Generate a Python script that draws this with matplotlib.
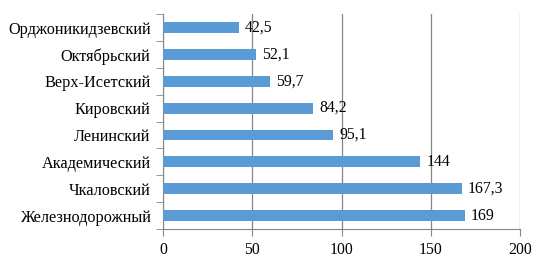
import matplotlib.pyplot as plt
import numpy as np

plt.rcParams['font.family'] = ['Liberation Serif', 'DejaVu Serif']

districts = ['Орджоникидзевский', 'Октябрьский', 'Верх-Исетский', 'Кировский',
             'Ленинский', 'Академический', 'Чкаловский', 'Железнодорожный']
values = [42.5, 52.1, 59.7, 84.2, 95.1, 144, 167.3, 169]
x_ticks = [0, 50, 100, 150, 200]

fig = plt.figure(figsize=(5.47, 2.66), dpi=100)
ax = fig.add_axes([0.298, 0.139, 0.653, 0.808])

pos = np.arange(len(districts))
ax.barh(pos, values, height=0.4, color='#5B9BD5', zorder=3)
ax.set_ylim(len(districts) - 0.5, -0.5)
ax.set_xlim(0, 200)

for p, v in zip(pos, values):
    txt = ('%g' % v).replace('.', ',')
    ax.text(v + 3.5, p, txt, va='center', ha='left', fontsize=11.3, color='black')

ax.set_yticks(pos)
ax.set_yticklabels(districts, fontsize=11.7)
ax.set_yticks(np.arange(len(districts) + 1) - 0.5, minor=True)
ax.tick_params(axis='y', which='major', length=0, pad=9)
ax.tick_params(axis='y', which='minor', length=5, color='#868686')

ax.set_xticks(x_ticks)
ax.tick_params(axis='x', length=5, color='#868686', labelsize=11.3, pad=4)

ax.grid(axis='x', color='#868686', linewidth=0.9, zorder=0)
for side in ['top', 'right']:
    ax.spines[side].set_visible(False)
for side in ['left', 'bottom']:
    ax.spines[side].set_color('#868686')

fig.savefig('out.png', dpi=100)
